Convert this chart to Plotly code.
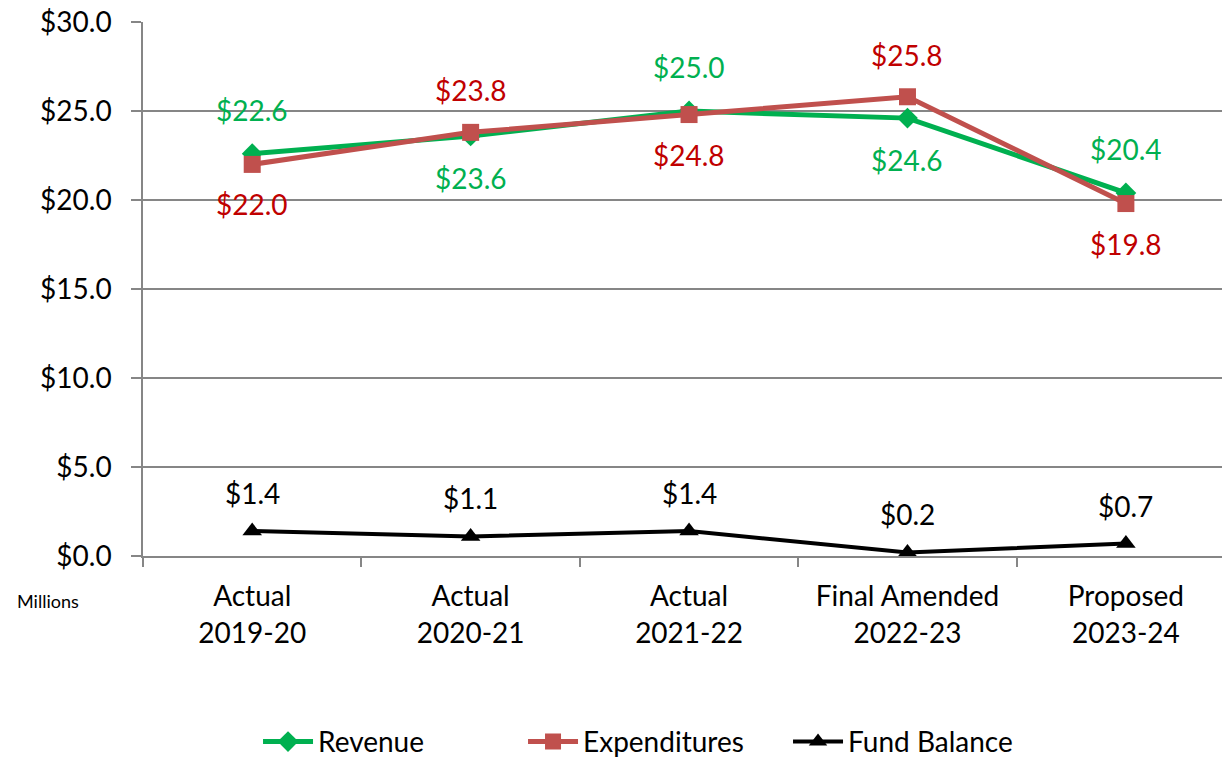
import plotly.graph_objects as go

categories = ["Actual<br>2019-20", "Actual<br>2020-21", "Actual<br>2021-22",
              "Final Amended<br>2022-23", "Proposed<br>2023-24"]
revenue = [22.6, 23.6, 25.0, 24.6, 20.4]
expenditures = [22.0, 23.8, 24.8, 25.8, 19.8]
fund_balance = [1.4, 1.1, 1.4, 0.2, 0.7]
# label side: 1 above, -1 below
revenue_side = [1, -1, 1, -1, 1]
expend_side = [-1, 1, -1, 1, -1]
fund_side = [1, 1, 1, 1, 1]
y_ticks = [0, 5, 10, 15, 20, 25, 30]
y_tick_text = ["$%.1f" % v for v in y_ticks]

FONT = "Lato"
GREEN = "#00B050"
RED_LINE = "#C0504D"
RED_TEXT = "#C00000"
GRID = "#868686"

fig = go.Figure()
fig.add_trace(go.Scatter(x=categories, y=revenue, name="Revenue", mode="lines+markers",
                         line=dict(color=GREEN, width=5),
                         marker=dict(symbol="diamond", size=16, color=GREEN)))
fig.add_trace(go.Scatter(x=categories, y=expenditures, name="Expenditures", mode="lines+markers",
                         line=dict(color=RED_LINE, width=5),
                         marker=dict(symbol="square", size=17, color=RED_LINE)))
fig.add_trace(go.Scatter(x=categories, y=fund_balance, name="Fund Balance", mode="lines+markers",
                         line=dict(color="black", width=4),
                         marker=dict(symbol="triangle-up", size=17, color="black")))

annotations = []
for vals, sides, col, up, down in [(revenue, revenue_side, GREEN, 44, -42),
                                   (expenditures, expend_side, RED_TEXT, 42, -40),
                                   (fund_balance, fund_side, "black", 38, -38)]:
    for c, v, s in zip(categories, vals, sides):
        annotations.append(dict(x=c, y=v, xref="x", yref="y", text="$%.1f" % v,
                                showarrow=False, yshift=up if s > 0 else down,
                                font=dict(family=FONT, size=28, color=col)))
annotations.append(dict(x=-0.1186, y=-0.084, xref="paper", yref="paper", text="Millions",
                        showarrow=False, xanchor="left", yanchor="middle",
                        font=dict(family=FONT, size=18, color="black")))

fig.update_layout(
    width=1222, height=760,
    margin=dict(l=143, r=0, t=22, b=204, autoexpand=False),
    paper_bgcolor="white", plot_bgcolor="white",
    font=dict(family=FONT, size=28, color="black"),
    showlegend=True,
    legend=dict(orientation="h", x=0.475, xanchor="center", y=-0.348, yanchor="middle",
                font=dict(family=FONT, size=28, color="black"), itemwidth=50,
                entrywidth=200, entrywidthmode="pixels",
                traceorder="normal"),
    annotations=annotations,
)
fig.update_xaxes(type="category", range=[-0.5, 4.44], tickson="boundaries",
                 ticks="outside", ticklen=9, tickcolor=GRID, tickwidth=1.5,
                 showline=True, linecolor=GRID, linewidth=1.5, automargin=False,
                 showgrid=False, tickfont=dict(family=FONT, size=28), ticklabelstandoff=15)
fig.update_yaxes(range=[0, 30], tickvals=y_ticks, ticktext=y_tick_text,
                 ticks="outside", ticklen=10, tickcolor=GRID, tickwidth=1.5,
                 showline=True, linecolor=GRID, linewidth=1.5, automargin=False,
                 showgrid=True, gridcolor=GRID, gridwidth=1.5, ticklabelstandoff=14,
                 zeroline=False, tickfont=dict(family=FONT, size=28))

fig.write_html("out.html", config={"displayModeBar": False},
               post_script="document.body.style.margin='0';document.body.style.padding='0';")
